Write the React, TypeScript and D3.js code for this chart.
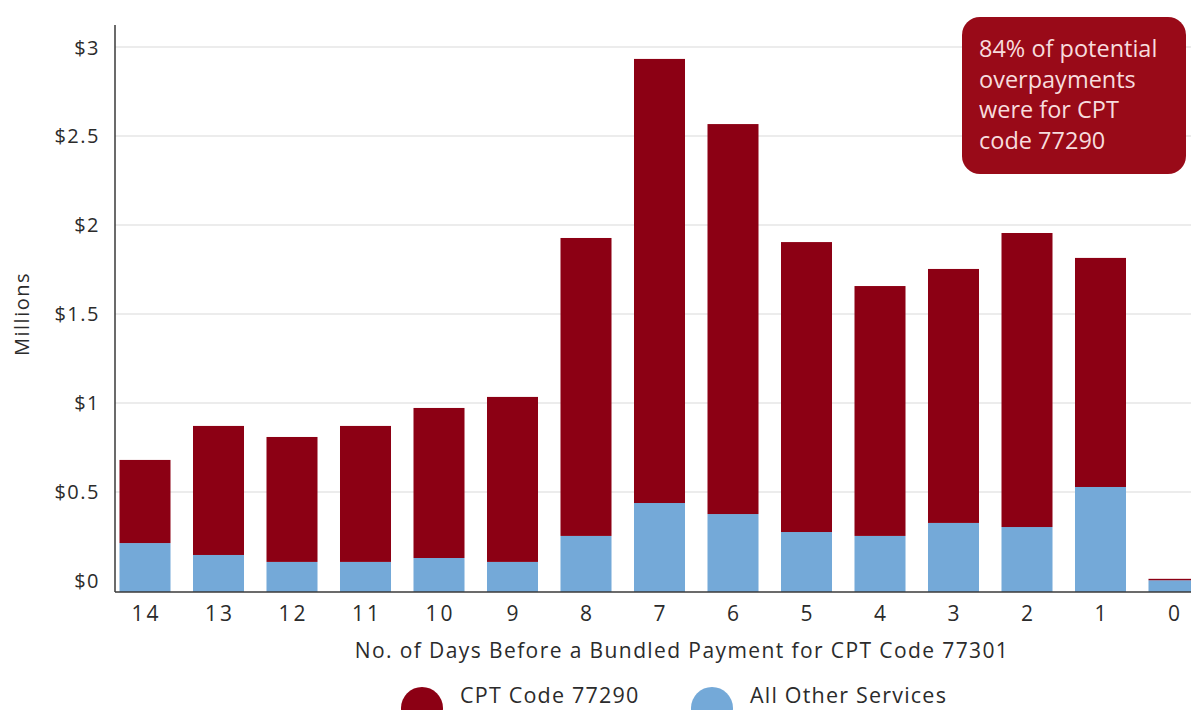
import React from "react";
import * as d3 from "d3";

const days = ["14", "13", "12", "11", "10", "9", "8", "7", "6", "5", "4", "3", "2", "1", "0"];
const otherServices = [0.213, 0.146, 0.107, 0.107, 0.129, 0.107, 0.253, 0.438, 0.376, 0.275, 0.253, 0.326, 0.303, 0.528, 0.004];
const cptCode77290 = [0.467, 0.725, 0.702, 0.764, 0.843, 0.927, 1.674, 2.495, 2.191, 1.629, 1.404, 1.427, 1.652, 1.287, 0.008];
const yTicks = [0, 0.5, 1, 1.5, 2, 2.5, 3];
const yTickLabels = ["$0", "$0.5", "$1", "$1.5", "$2", "$2.5", "$3"];
const annotationLines = ["84% of potential", "overpayments", "were for CPT", "code 77290"];
const legendItems = [
  { label: "CPT Code 77290", color: "#8C0014" },
  { label: "All Other Services", color: "#74A9D8" },
];

const W = 1191;
const H = 710;
const RED = "#8C0014";
const BLUE = "#74A9D8";
const FONT = "'Open Sans', 'Noto Sans', sans-serif";

export default function App() {
  const x = d3.scaleBand<string>().domain(days).range([108.25, 1210.75]).paddingInner(0.306).paddingOuter(0.153);
  const y = d3.scaleLinear().domain([-0.062, 3]).range([592, 47]);
  const base = y.range()[0];
  const axisLeft = 115;

  return (
    <svg width={W} height={H} style={{ position: "absolute", left: 0, top: 0, background: "#fff" }} fontFamily={FONT}>
      {yTicks.slice(1).map((t) => (
        <line key={t} x1={axisLeft} x2={W} y1={y(t)} y2={y(t)} stroke="#E6E6E6" strokeWidth={1.5} />
      ))}
      {days.map((d, i) => {
        const bx = x(d)!;
        const bw = x.bandwidth();
        const yo = y(otherServices[i]);
        const yt = y(otherServices[i] + cptCode77290[i]);
        return (
          <g key={d}>
            <rect x={bx} y={yo} width={bw} height={base - yo} fill={BLUE} />
            <rect x={bx} y={yt} width={bw} height={yo - yt} fill={RED} />
          </g>
        );
      })}
      <line x1={axisLeft} x2={axisLeft} y1={25} y2={base} stroke="#3a3a3a" strokeWidth={1.5} />
      <line x1={axisLeft} x2={W} y1={base} y2={base} stroke="#3a3a3a" strokeWidth={1.5} />
      {yTicks.map((t, i) => (
        <text key={t} x={100} y={y(t)} textAnchor="end" dominantBaseline="central" fontSize={20} letterSpacing={1.5} fill="#2b2b2b">
          {yTickLabels[i]}
        </text>
      ))}
      {days.map((d) => (
        <text key={d} x={x(d)! + x.bandwidth() / 2 + 1.5} y={613} textAnchor="middle" dominantBaseline="central" fontSize={21} fill="#2b2b2b" letterSpacing={3}>
          {d}
        </text>
      ))}
      <text transform={`translate(21,${y(1.5)}) rotate(-90)`} textAnchor="middle" dominantBaseline="central" fontSize={20} letterSpacing={1.5} fill="#2b2b2b">
        Millions
      </text>
      <text x={682} y={650} textAnchor="middle" dominantBaseline="central" fontSize={21} letterSpacing={1.4} fill="#2b2b2b">
        No. of Days Before a Bundled Payment for CPT Code 77301
      </text>
      {legendItems.map((it, i) => {
        const cx = i === 0 ? 422 : 712;
        return (
          <g key={it.label}>
            <circle cx={cx} cy={708} r={21} fill={it.color} />
            <text x={cx + 38} y={694} dominantBaseline="central" fontSize={21.5} letterSpacing={1.2} fill="#2b2b2b">
              {it.label}
            </text>
          </g>
        );
      })}
      <rect x={962} y={17} width={224} height={157} rx={18} ry={18} fill="#990A18" />
      {annotationLines.map((l, i) => (
        <text key={l} x={979} y={57 + i * 30.5} fontSize={23.5} fill="#F7DCDD">
          {l}
        </text>
      ))}
    </svg>
  );
}
